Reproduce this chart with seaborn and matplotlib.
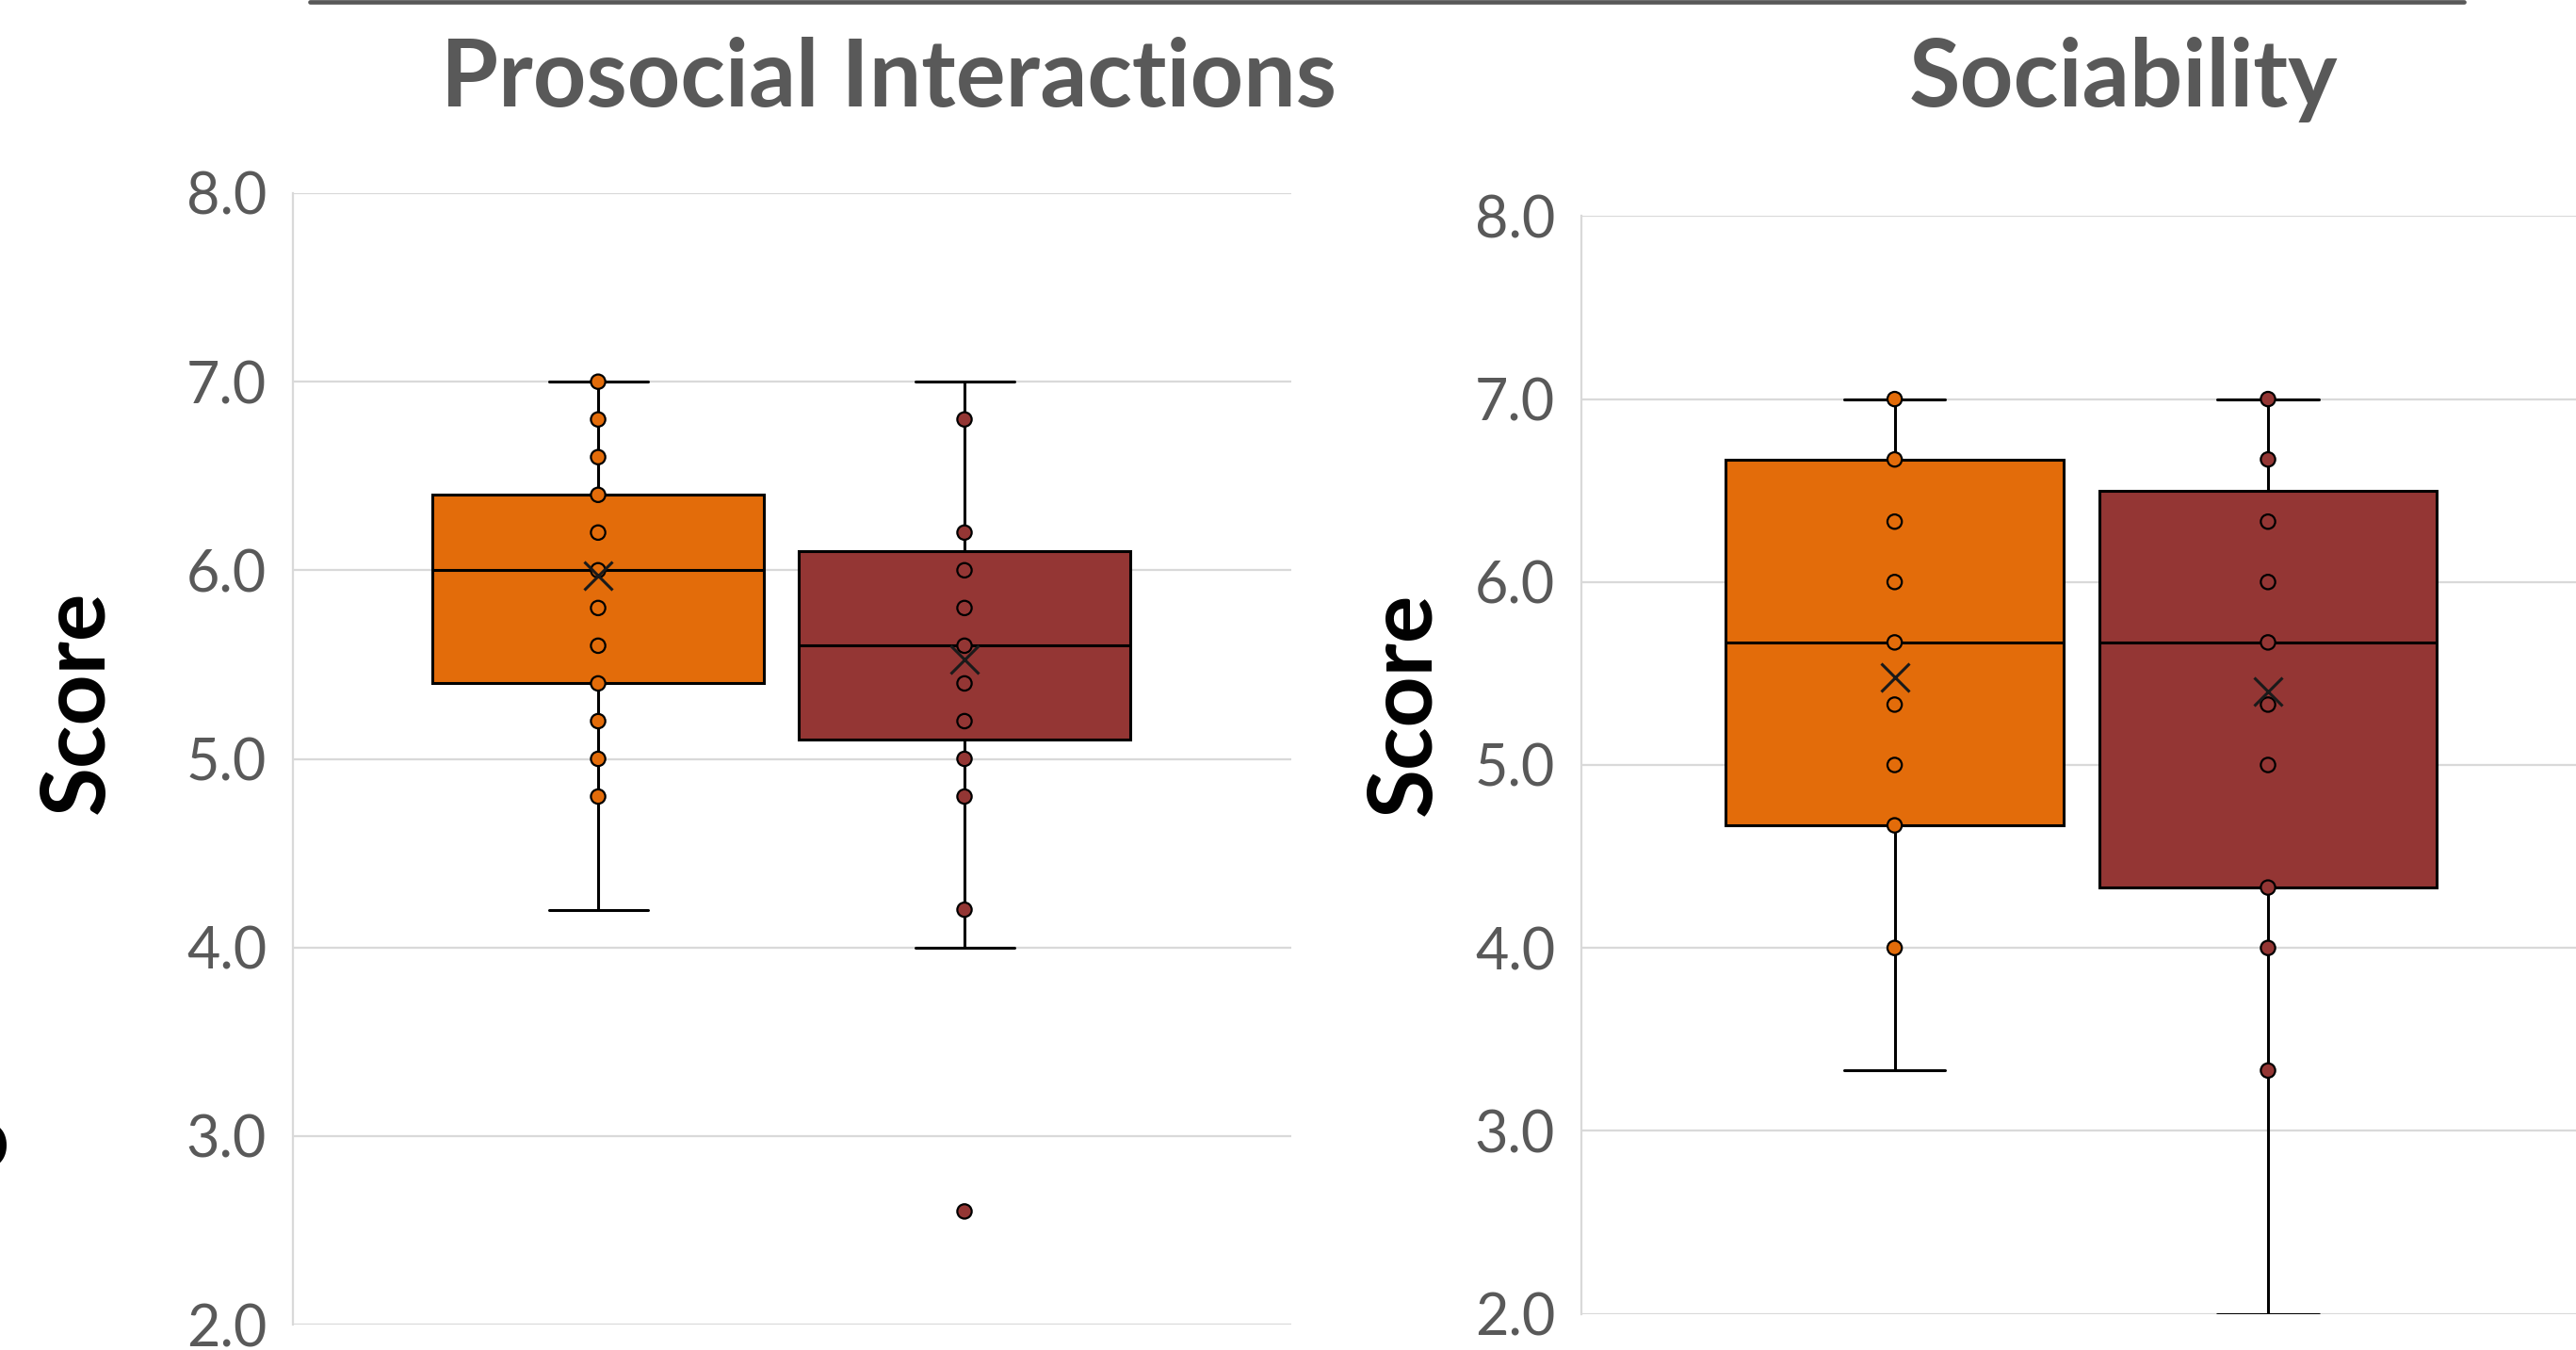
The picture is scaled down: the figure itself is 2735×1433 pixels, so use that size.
import matplotlib
matplotlib.use("Agg")
import matplotlib.pyplot as plt
from matplotlib.lines import Line2D
import pandas as pd
import seaborn as sns

# ---- data -------------------------------------------------------------
titles = ["Prosocial Interactions", "Sociability"]
conditions = ["Condition 1", "Condition 2"]
colors = ["#E36C0A", "#943634"]
y_ticks = [2.0, 3.0, 4.0, 5.0, 6.0, 7.0, 8.0]

# raw scores (box statistics are computed from these)
prosocial_c1 = [4.2, 4.8, 5.0, 5.2, 5.4, 5.4, 5.6, 5.8, 6.0, 6.0, 6.0,
                6.2, 6.4, 6.4, 6.4, 6.4, 6.6, 6.8, 6.8, 7.0, 7.0]
prosocial_c2 = [2.6, 4.0, 4.2, 4.8, 5.0, 5.2, 5.4, 5.6, 5.6, 5.6, 5.8,
                6.0, 6.0, 6.0, 6.2, 6.2, 6.8, 7.0, 7.0]
sociability_c1 = [3.33, 4.0, 4.0, 4.0, 4.67, 4.67, 4.67, 5.0, 5.0, 5.33, 5.67,
                  5.67, 6.0, 6.0, 6.33, 6.67, 6.67, 6.67, 6.67, 7.0, 7.0]
sociability_c2 = [2.0, 3.33, 4.0, 4.33, 4.33, 4.33, 5.0, 5.33, 5.67, 5.67,
                  5.67, 6.0, 6.33, 6.33, 6.67, 6.67, 7.0, 7.0, 7.0]

# distinct score levels shown as points
prosocial_c1_pts = [7.0, 6.8, 6.6, 6.4, 6.2, 6.0, 5.8, 5.6, 5.4, 5.2, 5.0, 4.8]
prosocial_c2_pts = [6.8, 6.2, 6.0, 5.8, 5.6, 5.4, 5.2, 5.0, 4.8, 4.2, 2.6]
sociability_c1_pts = [7.0, 6.67, 6.33, 6.0, 5.67, 5.33, 5.0, 4.67, 4.0]
sociability_c2_pts = [7.0, 6.67, 6.33, 6.0, 5.67, 5.33, 5.0, 4.33, 4.0, 3.33]

# ---- style ------------------------------------------------------------
sns.set_theme(style="white")
plt.rcParams["font.family"] = ["Lato", "DejaVu Sans"]

TEXT_GREY = "#595959"
GRID_GREY = "#D9D9D9"
W, H = 2735, 1433

fig = plt.figure(figsize=(W / 100, H / 100), dpi=100)


def long_frame(a, b):
    return pd.DataFrame({
        "condition": [conditions[0]] * len(a) + [conditions[1]] * len(b),
        "score": list(a) + list(b),
    })


def draw_panel(ax, raw_a, raw_b, pts_a, pts_b, xlim):
    sns.boxplot(
        data=long_frame(raw_a, raw_b), x="condition", y="score",
        hue="condition", order=conditions, hue_order=conditions,
        palette=colors, saturation=1, width=0.905, linecolor="black",
        linewidth=2.2, showfliers=False, showmeans=True, whis=1.5,
        capwidths=0.27,
        meanprops=dict(marker="x", markeredgecolor="#1a1a1a",
                       markersize=22, markeredgewidth=2.2, zorder=6),
        legend=False, ax=ax,
    )
    sns.stripplot(
        data=long_frame(pts_a, pts_b), x="condition", y="score",
        hue="condition", order=conditions, hue_order=conditions,
        palette=colors, jitter=False, size=11, edgecolor="black",
        linewidth=1.6, legend=False, ax=ax, zorder=5,
    )
    ax.set_xlim(*xlim)
    ax.set_ylim(2.0, 8.0)
    ax.set_yticks(y_ticks)
    ax.set_yticklabels([f"{v:.1f}" for v in y_ticks])
    ax.set_xticks([])
    ax.set_xlabel("")
    ax.set_ylabel("")
    ax.tick_params(axis="y", length=0, pad=20, labelsize=44,
                   labelcolor=TEXT_GREY)
    ax.grid(axis="y", color=GRID_GREY, linewidth=1.6)
    ax.set_axisbelow(True)
    for side in ("top", "right", "bottom"):
        ax.spines[side].set_visible(False)
    ax.spines["left"].set_color(GRID_GREY)
    ax.spines["left"].set_linewidth(1.6)
    ax.patch.set_alpha(0)


ax1 = fig.add_axes([311 / W, 1 - 1406 / H, 1060 / W, (1406 - 205) / H])
draw_panel(ax1, prosocial_c1, prosocial_c2, prosocial_c1_pts,
           prosocial_c2_pts, (-0.833, 1.892))

ax2 = fig.add_axes([1679 / W, 1 - 1394.6 / H, 1060 / W, (1394.6 - 229.4) / H])
draw_panel(ax2, sociability_c1, sociability_c2, sociability_c1_pts,
           sociability_c2_pts, (-0.839, 1.835))

# panel titles
fig.text(943 / W, 1 - 113 / H, titles[0], ha="center", va="baseline",
         fontsize=71, fontweight="bold", color=TEXT_GREY)
fig.text(2254 / W, 1 - 113 / H, titles[1], ha="center", va="baseline",
         fontsize=71.5, fontweight="bold", color=TEXT_GREY)

# y-axis labels
fig.text(83 / W, 1 - 745 / H, "Score", rotation=90, ha="center",
         va="center", fontsize=68, fontweight="bold", color="black")
fig.text(1492 / W, 1 - 747 / H, "Score", rotation=90, ha="center",
         va="center", fontsize=68, fontweight="bold", color="black")

# fragment of a neighbouring label at the left edge
fig.text(10 / W, 1 - 1240 / H, "o", ha="right", va="baseline",
         fontsize=68, fontweight="bold", color="black")

# rule above the titles
fig.add_artist(Line2D([329 / W, 2616 / W], [1 - 2.3 / H, 1 - 2.3 / H],
                      color=TEXT_GREY, linewidth=3.4))

fig.savefig("out.png", dpi=100)
